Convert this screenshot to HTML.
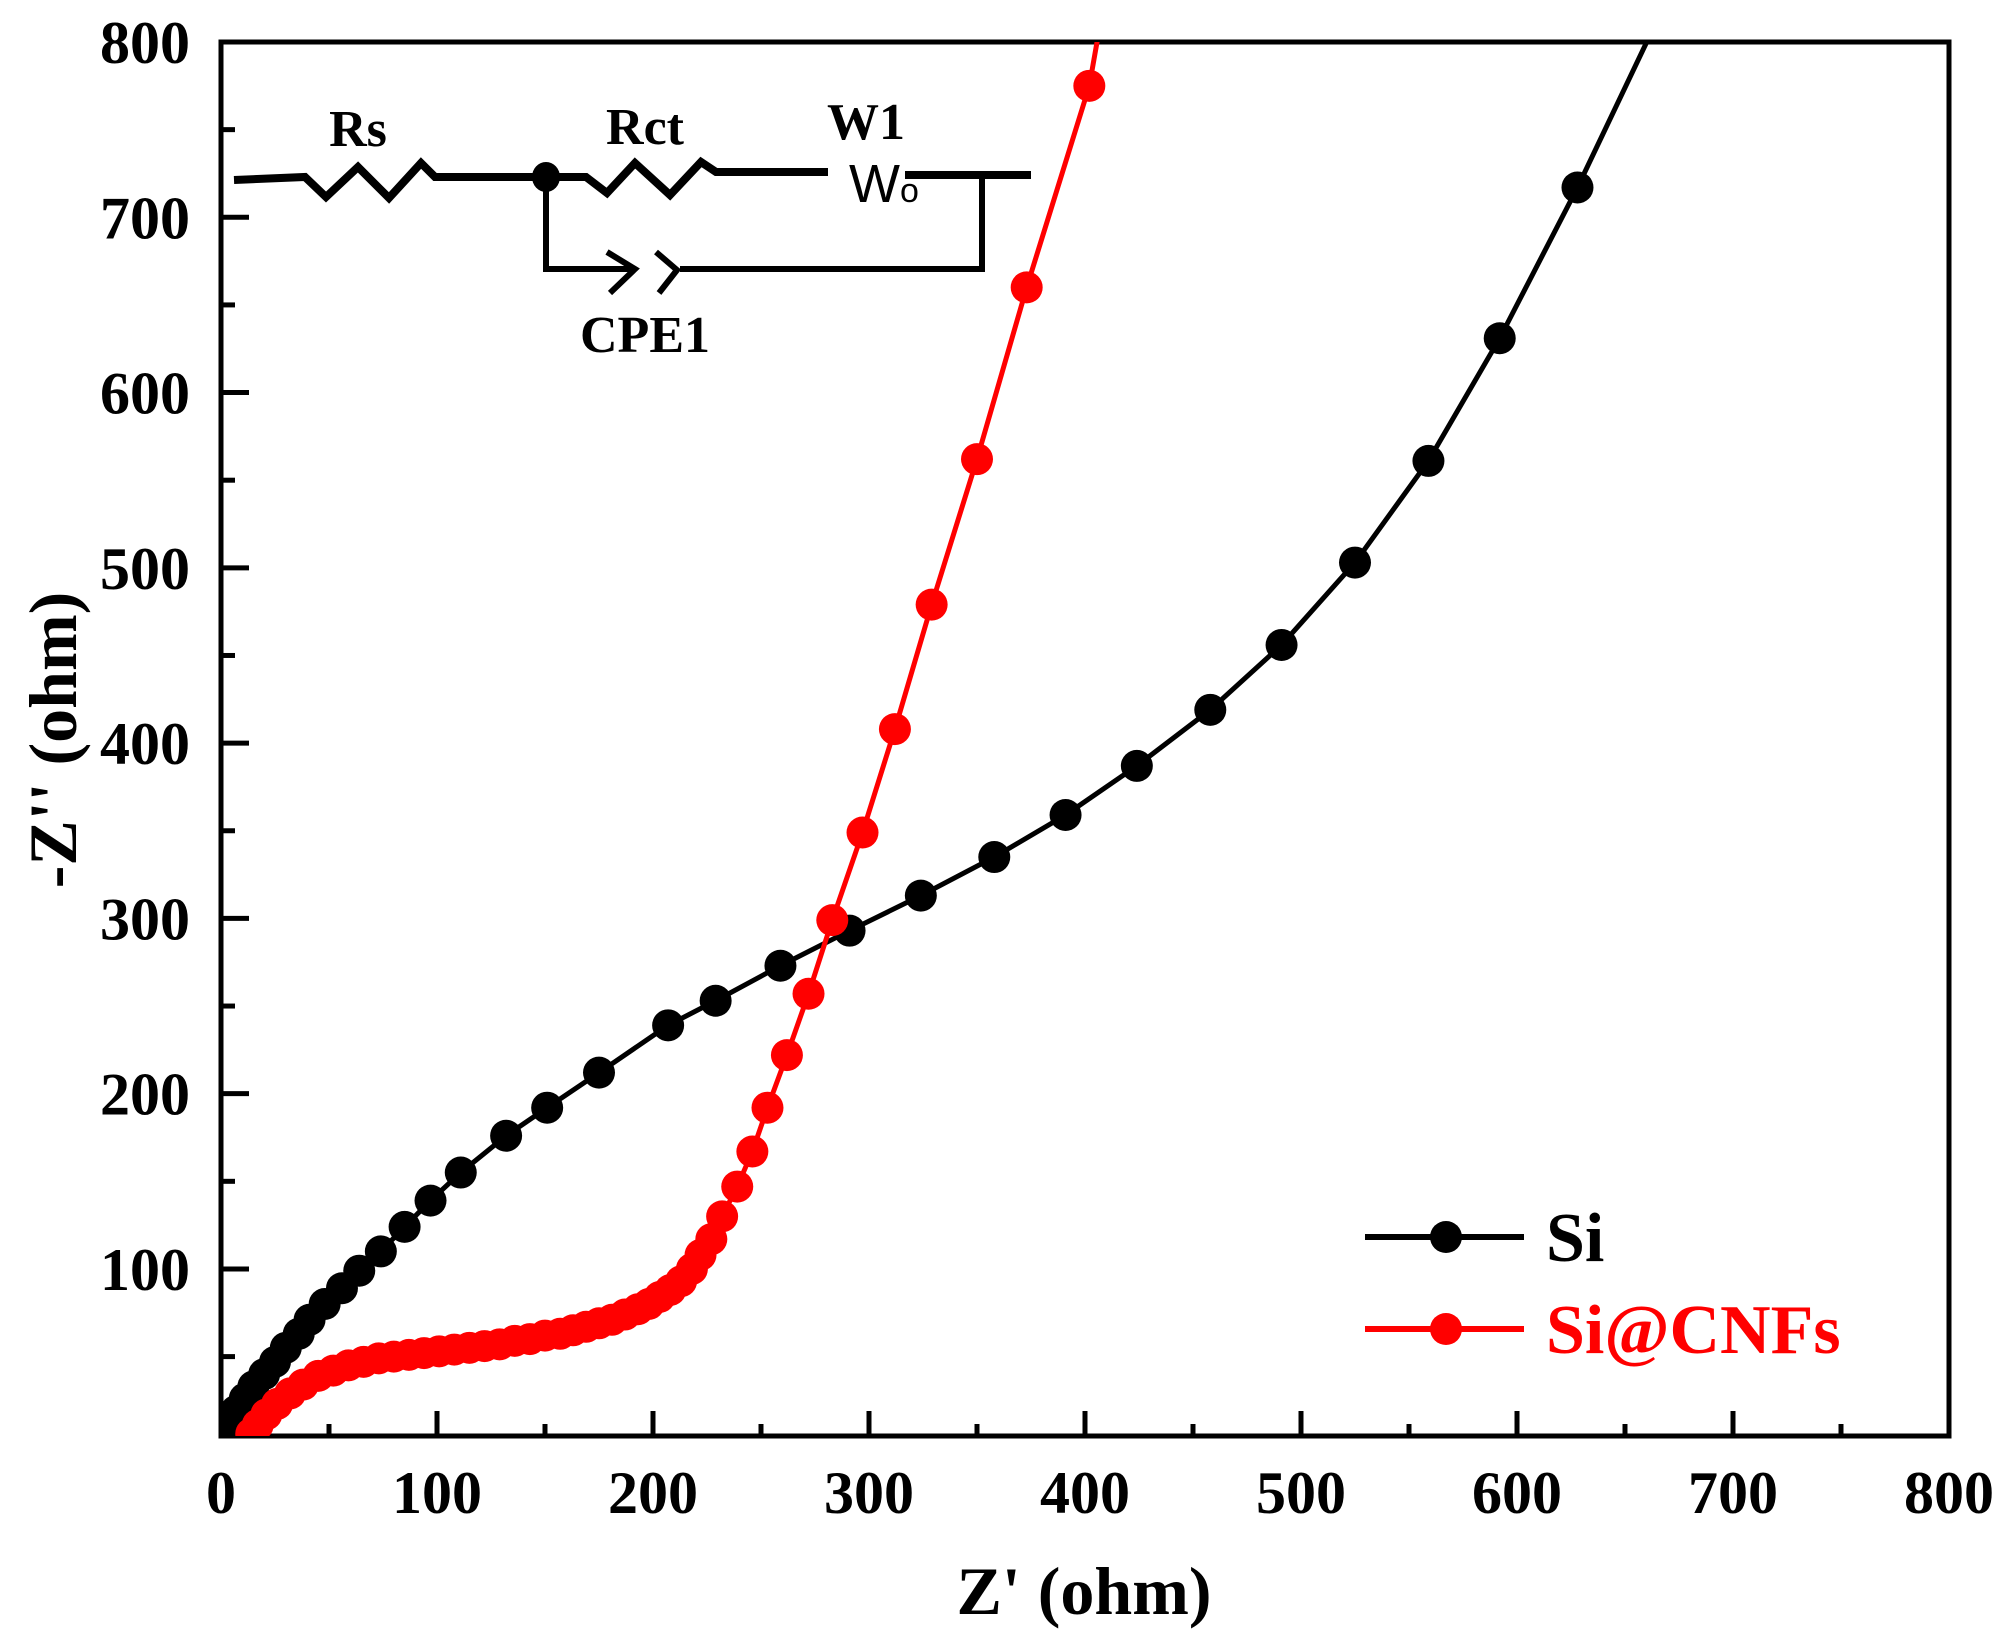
<!DOCTYPE html>
<html><head><meta charset="utf-8">
<style>
html,body{margin:0;padding:0;background:#fff;}
svg{display:block;}
text{font-family:"Liberation Serif",serif;font-weight:bold;}
</style></head>
<body>
<svg id="chart" width="2000" height="1635" viewBox="0 0 2000 1635" xmlns="http://www.w3.org/2000/svg">
<defs><clipPath id="plotclip"><rect x="221" y="42" width="1728" height="1394"/></clipPath></defs>
<g id="axes"></g>
<g id="series" clip-path="url(#plotclip)"></g>
<g id="circuit">
  <polyline points="234,180 305,177 326,197 358,167 389,198 421,163 435,177 546,177 586,177 607,193 635,163 670,195 701,162 716,172 828,172" fill="none" stroke="#000" stroke-width="8" stroke-linejoin="miter"/>
  <line x1="905" y1="175" x2="1031" y2="175" stroke="#000" stroke-width="8"/>
  <polyline points="982,178 982,269 680,269" fill="none" stroke="#000" stroke-width="6"/>
  <polyline points="546,177 546,269 635,269" fill="none" stroke="#000" stroke-width="6"/>
  <polyline points="607,252 635,269 610,293" fill="none" stroke="#000" stroke-width="6"/>
  <polyline points="656,252 677,270 659,293" fill="none" stroke="#000" stroke-width="6"/>
  <ellipse cx="546" cy="177" rx="14" ry="15" fill="#000"/>
  <text x="358" y="146" font-size="52" text-anchor="middle">Rs</text>
  <text x="645" y="144" font-size="52" text-anchor="middle">Rct</text>
  <text x="866" y="139" font-size="52" text-anchor="middle">W1</text>
  <text x="849" y="202" font-size="54" style="font-family:'Liberation Sans',sans-serif;font-weight:normal">W<tspan font-size="34">o</tspan></text>
  <text x="645" y="352" font-size="52" text-anchor="middle">CPE1</text>
</g>
<g id="legend">
  <g>
    <line x1="1365" y1="1237" x2="1524" y2="1237" stroke="#000" stroke-width="6"/>
    <circle cx="1446" cy="1237" r="16" fill="#000"/>
    <text x="1546" y="1261" font-size="70" fill="#000">Si</text>
  </g>
  <g>
    <line x1="1365" y1="1329" x2="1524" y2="1329" stroke="#f00" stroke-width="6"/>
    <circle cx="1446" cy="1329" r="16" fill="#f00"/>
    <text x="1546" y="1353" font-size="70" fill="#f00">Si@CNFs</text>
  </g>
</g>
</svg>
<script>
const xTicks = [0,100,200,300,400,500,600,700,800];
const yTicks = [100,200,300,400,500,600,700,800];
const siX = [2,4,7,11,15,20,25,30,36,41,48,56,64,74,85,97,111,132,151,175,207,229,259,291,324,358,391,424,458,491,525,559,592,628];
const siY = [7,12,19,26,33,40,47,55,63,71,80,89,99,110,124,139,155,176,192,212,239,253,273,293,313,335,359,387,419,456,503,561,631,717];
const siTailX = [628,662];
const siTailY = [717,805];
const cnfX = [14,17,21,26,32,38,45,52,59,66,73,80,87,94,101,108,115,122,129,136,143,150,157,163,169,175,181,187,193,198,203,208,213,218,222,227,232,239,246,253,262,272,283,297,312,329,350,373,402];
const cnfY = [6,11,17,23,29,34,39,42,45,47,49,50,51,52,53,54,55,56,57,59,60,62,63,65,67,69,71,74,77,80,84,88,93,100,108,117,130,147,167,192,222,257,299,349,408,479,562,660,775];
const cnfTailX = [402,407];
const cnfTailY = [775,810];

const L=221,R=1949,T=42,B=1436,XMIN=0,XMAX=800,YMIN=4.7,YMAX=800;
function sx(v){return L+(v-XMIN)/(XMAX-XMIN)*(R-L);}
function sy(v){return B-(v-YMIN)/(YMAX-YMIN)*(B-T);}
const NS='http://www.w3.org/2000/svg';
function mk(tag,attrs,parent){const e=document.createElementNS(NS,tag);for(const k in attrs)e.setAttribute(k,attrs[k]);parent.appendChild(e);return e;}
const axes=document.getElementById('axes');
const frame=mk('rect',{x:L,y:T,width:R-L,height:B-T,fill:'none',stroke:'#000','stroke-width':5},axes);


xTicks.forEach((v,i)=>{
  const t=mk('line',{x1:sx(v),x2:sx(v),y1:B,y2:B-25,stroke:'#000','stroke-width':5},axes);
  
  
  if(i<xTicks.length-1){const m=mk('line',{x1:sx(v+50),x2:sx(v+50),y1:B,y2:B-12,stroke:'#000','stroke-width':5},axes);
  
  }
  const lb=mk('text',{x:sx(v),y:1513,'font-size':60,'text-anchor':'middle'},axes);lb.textContent=v;
  
  
});
yTicks.forEach((v)=>{
  const t=mk('line',{x1:L,x2:L+28,y1:sy(v),y2:sy(v),stroke:'#000','stroke-width':5},axes);
  
  
  const m=mk('line',{x1:L,x2:L+14,y1:sy(v-50),y2:sy(v-50),stroke:'#000','stroke-width':5},axes);
  
  
  const lb=mk('text',{x:190,y:sy(v)+21,'font-size':60,'text-anchor':'end'},axes);lb.textContent=v;
  
  
});
const xt=mk('text',{x:1084,y:1614,'font-size':68,'text-anchor':'middle'},axes);xt.textContent="Z' (ohm)";


const yt=mk('text',{x:0,y:0,'font-size':68,'text-anchor':'middle',transform:'translate(76,740) rotate(-90)'},axes);yt.textContent="-Z'' (ohm)";



const ser=document.getElementById('series');
function drawSeries(xs,ys,tx,ty,color,name){
  const pts=xs.map((x,i)=>[x,ys[i]]).concat(tx.map((x,i)=>[x,ty[i]]));
  pts.sort((a,b)=>a[1]-b[1]);
  const pl=mk('polyline',{points:pts.map(p=>sx(p[0])+','+sy(p[1])).join(' '),fill:'none',stroke:color,'stroke-width':5},ser);
  
  
  xs.forEach((x,i)=>{
    const c=mk('circle',{cx:sx(x),cy:sy(ys[i]),r:16,fill:color},ser);
    
    
  });
}
drawSeries(siX,siY,siTailX,siTailY,'#000','si');
drawSeries(cnfX,cnfY,cnfTailX,cnfTailY,'#f00','si-cnfs');
</script>
</body></html>
